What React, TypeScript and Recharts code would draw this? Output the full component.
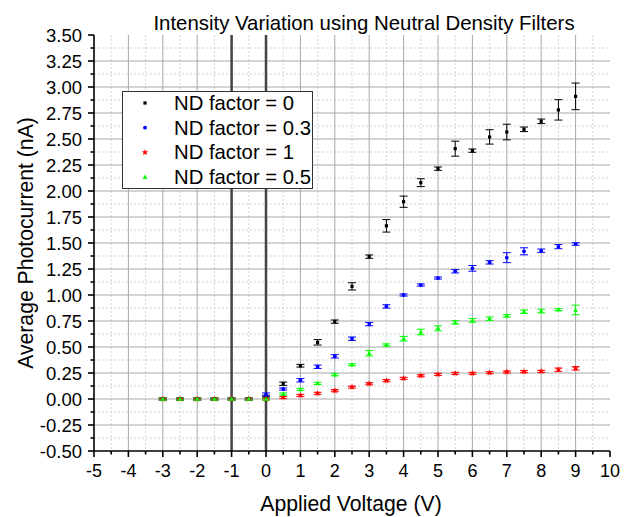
import React from "react";
import {
  ScatterChart,
  Scatter,
  XAxis,
  YAxis,
  CartesianGrid,
  ReferenceLine,
  ErrorBar,
  Legend,
} from "recharts";

const voltage = [-3, -2.5, -2, -1.5, -1, -0.5, 0, 0.5, 1, 1.5, 2, 2.5, 3, 3.5, 4, 4.5, 5, 5.5, 6, 6.5, 7, 7.5, 8, 8.5, 9];

// ND factor = 0
const nd0 = [0, 0, 0, 0, 0, 0, 0.026, 0.147, 0.32, 0.545, 0.744, 1.083, 1.369, 1.665, 1.897, 2.08, 2.215, 2.407, 2.388, 2.52, 2.567, 2.593, 2.67, 2.78, 2.91];
const nd0Err = [0.01, 0.01, 0.01, 0.01, 0.01, 0.01, 0.01, 0.016, 0.013, 0.026, 0.016, 0.035, 0.016, 0.06, 0.054, 0.038, 0.016, 0.072, 0.016, 0.069, 0.075, 0.022, 0.022, 0.098, 0.128];

// ND factor = 0.3
const nd03 = [0, 0, 0, 0, 0, 0, 0.042, 0.096, 0.18, 0.31, 0.41, 0.58, 0.72, 0.89, 1.0, 1.096, 1.163, 1.228, 1.256, 1.314, 1.359, 1.42, 1.426, 1.465, 1.49];
const nd03Err = [0.01, 0.01, 0.01, 0.01, 0.01, 0.01, 0.016, 0.01, 0.016, 0.016, 0.016, 0.016, 0.016, 0.016, 0.01, 0.01, 0.01, 0.016, 0.027, 0.016, 0.048, 0.034, 0.016, 0.02, 0.012];

// ND factor = 1
const nd1 = [0, 0, 0, 0, 0, 0, 0, 0.016, 0.035, 0.055, 0.08, 0.115, 0.147, 0.176, 0.199, 0.224, 0.237, 0.247, 0.247, 0.253, 0.26, 0.263, 0.266, 0.282, 0.295];
const nd1Err = [0.01, 0.01, 0.01, 0.01, 0.01, 0.01, 0.01, 0.01, 0.01, 0.01, 0.01, 0.01, 0.01, 0.01, 0.01, 0.01, 0.01, 0.01, 0.01, 0.01, 0.01, 0.01, 0.01, 0.016, 0.016];

// ND factor = 0.5
const nd05 = [0, 0, 0, 0, 0, 0, 0, 0.048, 0.093, 0.15, 0.234, 0.33, 0.44, 0.52, 0.58, 0.644, 0.68, 0.737, 0.756, 0.772, 0.8, 0.84, 0.846, 0.859, 0.856];
const nd05Err = [0.01, 0.01, 0.01, 0.01, 0.01, 0.01, 0.01, 0.01, 0.01, 0.01, 0.01, 0.01, 0.026, 0.01, 0.022, 0.027, 0.024, 0.016, 0.018, 0.016, 0.012, 0.016, 0.018, 0.01, 0.046];

const xTicks = [-5, -4.5, -4, -3.5, -3, -2.5, -2, -1.5, -1, -0.5, 0, 0.5, 1, 1.5, 2, 2.5, 3, 3.5, 4, 4.5, 5, 5.5, 6, 6.5, 7, 7.5, 8, 8.5, 9, 9.5, 10];
const yTicks = [-0.5, -0.375, -0.25, -0.125, 0, 0.125, 0.25, 0.375, 0.5, 0.625, 0.75, 0.875, 1, 1.125, 1.25, 1.375, 1.5, 1.625, 1.75, 1.875, 2, 2.125, 2.25, 2.375, 2.5, 2.625, 2.75, 2.875, 3, 3.125, 3.25, 3.375, 3.5];
const xMajorGrid = [-4, -3, -2, -1, 0, 1, 2, 3, 4, 5, 6, 7, 8, 9];
const xMinorGrid = [-4.5, -3.5, -2.5, -1.5, -0.5, 0.5, 1.5, 2.5, 3.5, 4.5, 5.5, 6.5, 7.5, 8.5, 9.5];
const yMajorGrid = [-0.25, 0, 0.25, 0.5, 0.75, 1, 1.25, 1.5, 1.75, 2, 2.25, 2.5, 2.75, 3, 3.25];
const yMinorGrid = [-0.375, -0.125, 0.125, 0.375, 0.625, 0.875, 1.125, 1.375, 1.625, 1.875, 2.125, 2.375, 2.625, 2.875, 3.125, 3.375];
const markedVoltages = [-1, 0];

const FONT = "'Liberation Sans', Arial, sans-serif";

const series = [
  { name: "ND factor = 0", values: nd0, errs: nd0Err, color: "#000000", marker: "square" },
  { name: "ND factor = 0.3", values: nd03, errs: nd03Err, color: "#0000ff", marker: "circle" },
  { name: "ND factor = 1", values: nd1, errs: nd1Err, color: "#ff0000", marker: "star" },
  { name: "ND factor = 0.5", values: nd05, errs: nd05Err, color: "#00ff00", marker: "triangle" },
];

const toPoints = (values: number[], errs: number[]) =>
  voltage.map((v, i) => ({ x: v, y: values[i], err: errs[i] }));

function Marker({ kind, cx, cy, color }: { kind: string; cx: number; cy: number; color: string }) {
  if (kind === "square") {
    return <rect x={cx - 1.6} y={cy - 1.6} width={3.2} height={3.2} fill={color} />;
  }
  if (kind === "circle") {
    return <circle cx={cx} cy={cy} r={1.9} fill={color} />;
  }
  if (kind === "triangle") {
    return (
      <polygon
        points={`${cx},${cy - 2.6} ${cx + 2.4},${cy + 1.8} ${cx - 2.4},${cy + 1.8}`}
        fill={color}
      />
    );
  }
  // star
  const pts: string[] = [];
  for (let k = 0; k < 10; k++) {
    const r = k % 2 === 0 ? 3.4 : 1.4;
    const a = -Math.PI / 2 + (k * Math.PI) / 5;
    pts.push(`${cx + r * Math.cos(a)},${cy + r * Math.sin(a)}`);
  }
  return <polygon points={pts.join(" ")} fill={color} />;
}

const XTick = (props: any) => {
  const { x, y, payload } = props;
  const v = payload.value;
  const major = Number.isInteger(v);
  return (
    <g>
      <line x1={x} x2={x} y1={y} y2={y + (major ? 6 : 3.5)} stroke="#000" strokeWidth={1.6} />
      {major && (
        <text x={x} y={y + 26} textAnchor="middle" fontSize={18} fontFamily={FONT} fill="#000">
          {v}
        </text>
      )}
    </g>
  );
};

const YTick = (props: any) => {
  const { x, y, payload } = props;
  const v = payload.value;
  const major = Math.abs(v * 4 - Math.round(v * 4)) < 1e-9;
  return (
    <g>
      <line x1={x} x2={x - (major ? 6 : 3.5)} y1={y} y2={y} stroke="#000" strokeWidth={1.6} />
      {major && (
        <text x={x - 12} y={y + 6.5} textAnchor="end" fontSize={18.5} fontFamily={FONT} fill="#000">
          {v.toFixed(2)}
        </text>
      )}
    </g>
  );
};

const LegendBox = () => (
  <svg width={191} height={98} style={{ display: "block" }}>
    <rect x={0.5} y={0.5} width={190} height={97} fill="#fff" stroke="#333" strokeWidth={1} />
    {series.map((s, i) => (
      <g key={s.name}>
        <Marker kind={s.marker} cx={23} cy={12 + i * 24.7} color={s.color} />
        <text x={52} y={19 + i * 24.7} fontSize={20.3} fontFamily={FONT} fill="#000">
          {s.name}
        </text>
      </g>
    ))}
  </svg>
);

export default function App() {
  return (
    <div style={{ position: "absolute", left: 0, top: 0, width: 632, height: 517, background: "#fff" }}>
      <ScatterChart
        width={632}
        height={517}
        margin={{ top: 35, right: 22, bottom: 65, left: 93 }}
      >
        <CartesianGrid
          verticalValues={xMinorGrid}
          horizontalValues={yMinorGrid}
          stroke="#d4d4d4"
          strokeDasharray="2 2"
        />
        <CartesianGrid
          verticalValues={xMajorGrid}
          horizontalValues={yMajorGrid}
          stroke="#a8a8a8"
        />
        <XAxis
          type="number"
          dataKey="x"
          domain={[-5, 10]}
          ticks={xTicks}
          interval={0}
          height={1}
          tickSize={0}
          tickMargin={0}
          tickLine={false}
          tick={<XTick />}
          axisLine={{ stroke: "#000", strokeWidth: 1.6 }}
          allowDataOverflow
        />
        <YAxis
          type="number"
          dataKey="y"
          domain={[-0.5, 3.5]}
          ticks={yTicks}
          interval={0}
          width={1}
          tickSize={0}
          tickMargin={0}
          tickLine={false}
          tick={<YTick />}
          axisLine={{ stroke: "#000", strokeWidth: 1.6 }}
          allowDataOverflow
        />
        {markedVoltages.map((v) => (
          <ReferenceLine key={v} x={v} stroke="#444" strokeWidth={2.5} />
        ))}
        {series.map((s) => (
          <Scatter
            key={s.name}
            name={s.name}
            data={toPoints(s.values, s.errs)}
            fill={s.color}
            isAnimationActive={false}
            shape={(p: any) => <Marker kind={s.marker} cx={p.cx} cy={p.cy} color={s.color} />}
          >
            <ErrorBar
              dataKey="err"
              direction="y"
              width={4}
              stroke={s.color}
              strokeWidth={1}
              isAnimationActive={false}
            />
          </Scatter>
        ))}
        <Legend
          layout="vertical"
          align="center"
          verticalAlign="middle"
          wrapperStyle={{ left: 122, top: 91, width: 191, height: 98 }}
          content={() => <LegendBox />}
        />
      </ScatterChart>
      <svg
        width={632}
        height={517}
        style={{ position: "absolute", left: 0, top: 0, pointerEvents: "none" }}
      >
        <text x={364} y={30} textAnchor="middle" fontSize={20.4} fontFamily={FONT} fill="#000">
          Intensity Variation using Neutral Density Filters
        </text>
        <text x={351} y={511} textAnchor="middle" fontSize={21.2} fontFamily={FONT} fill="#000">
          Applied Voltage (V)
        </text>
        <text
          transform="translate(33,243) rotate(-90)"
          textAnchor="middle"
          fontSize={21.2}
          fontFamily={FONT}
          fill="#000"
        >
          Average Photocurrent (nA)
        </text>
      </svg>
    </div>
  );
}
